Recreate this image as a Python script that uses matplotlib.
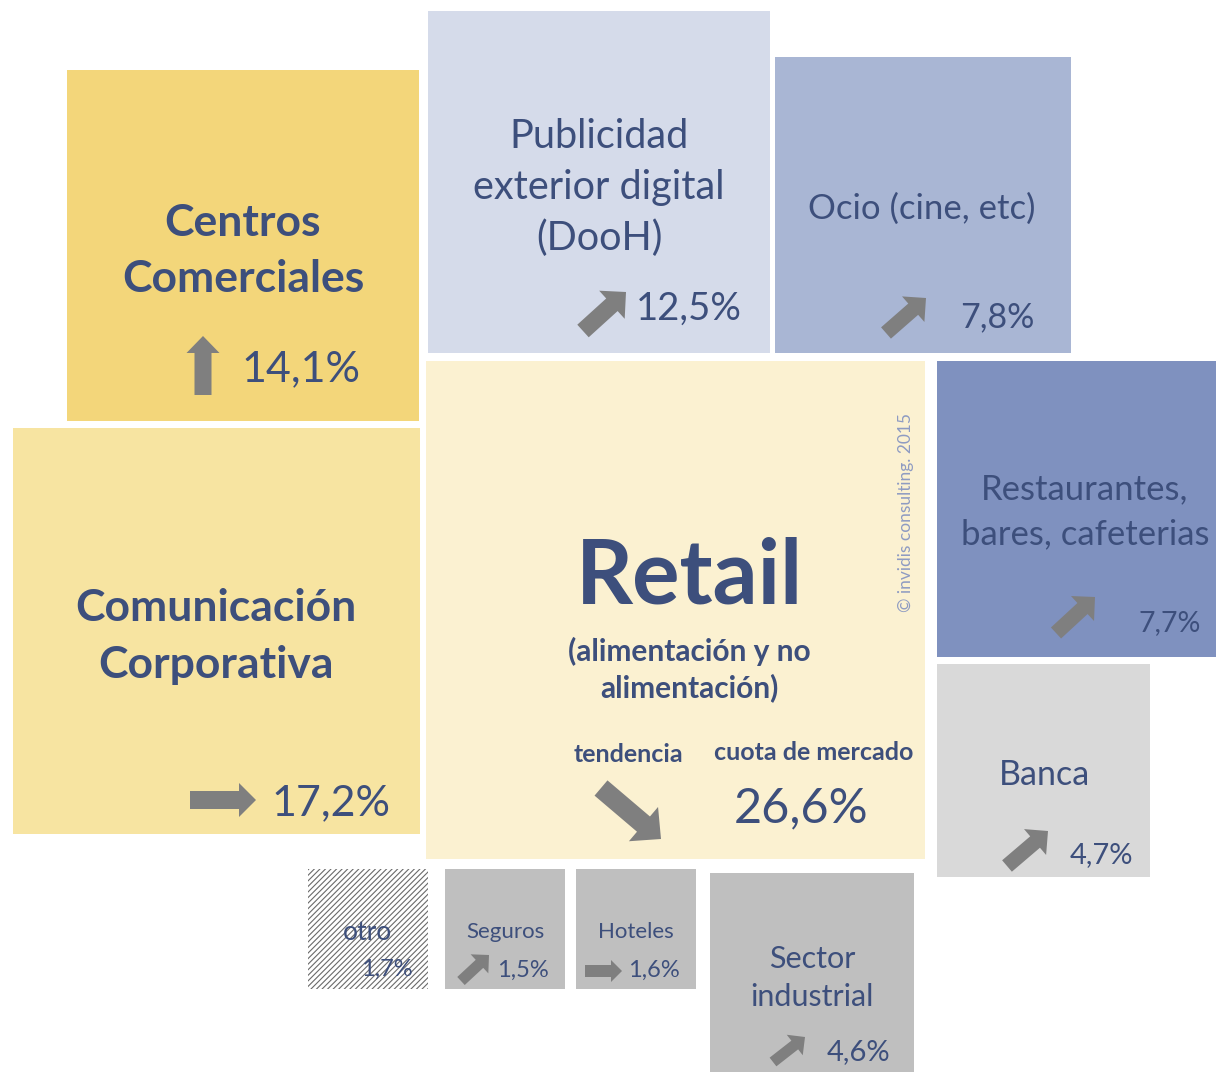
import numpy as np
import matplotlib
matplotlib.use("Agg")
import matplotlib.pyplot as plt
from matplotlib.patches import Rectangle, Polygon

# ---------------- data ----------------
categories = ["Centros Comerciales", "Comunicación Corporativa", "Publicidad exterior digital (DooH)",
              "Ocio (cine, etc)", "Retail", "Restaurantes, bares, cafeterias", "Banca",
              "otro", "Seguros", "Hoteles", "Sector industrial"]
shares = [14.1, 17.2, 12.5, 7.8, 26.6, 7.7, 4.7, 1.7, 1.5, 1.6, 4.6]
trends = ["up", "flat", "rising", "rising", "falling", "rising", "rising", None, "rising", "flat", "rising"]
label_lines = [["Centros", "Comerciales"], ["Comunicación", "Corporativa"],
               ["Publicidad", "exterior digital", "(DooH)"], ["Ocio (cine, etc)"], ["Retail"],
               ["Restaurantes,", "bares, cafeterias"], ["Banca"], ["otro"], ["Seguros"], ["Hoteles"],
               ["Sector", "industrial"]]
retail_sub = ["(alimentación y no", "alimentación)"]
copyright_txt = "© invidis consulting. 2015"

# ---------------- layout / style (pixel space) ----------------
# rect: x0, y0, x1, y1
rects = [(67, 70, 419, 421), (13, 428, 420, 834), (428, 11, 770, 353), (775, 57, 1071, 353),
         (426, 361, 925, 859), (937, 361, 1216, 657), (937, 664, 1150, 877),
         (308, 869, 428, 989), (445, 869, 565, 989), (576, 869, 696, 989), (710, 873, 914, 1072)]
colors = ["#F3D67A", "#F7E4A1", "#D5DBEA", "#A9B6D4", "#FBF1D1", "#7F91BF", "#D9D9D9",
          "#FFFFFF", "#BFBFBF", "#BFBFBF", "#BFBFBF"]
# label: center x, first baseline, line step, size, bold
label_pos = [(243, 236, 56, 32, True), (216, 621, 57, 32, True), (599, 148, 51, 28.5, False),
             (922, 219, 0, 25, False), (689, 604, 0, 64, True), (1085, 499, 45, 25, False),
             (1044, 785, 0, 24.5, False), (368, 940, 0, 19, False), (505, 938, 0, 16, False),
             (636, 938, 0, 16, False), (812, 968, 38, 22, False)]
# value: x, baseline, size, ha
value_pos = [(241, 381, 31, "left"), (271, 815, 31, "left"), (636, 320, 27.5, "left"),
             (960, 327, 24.5, "left"), (801, 822, 35, "center"), (1139, 631, 20.6, "left"),
             (1070, 863, 21, "left"), (413, 976, 17, "right"), (497, 977, 17, "left"),
             (628, 977, 17, "left"), (827, 1060, 21, "left")]
# arrow: tail x, tail y, tip x, tip y, shaft w, head w, head len
arrow_geom = [(203, 395, 203, 336, 17, 33, 17), (190, 800, 256, 800, 18, 34, 17),
              (583, 331, 626, 292, 17, 38, 19), (886, 333, 926, 298, 15, 34, 17),
              (601, 788, 661, 839, 20, 45, 23), (1056, 633, 1095, 597, 15, 34, 17),
              (1007, 866, 1048, 831, 15, 34, 17), None, (461, 981, 489, 955, 11, 26, 13),
              (585, 971, 622, 971, 12, 22, 11), (773, 1062, 805, 1037, 11, 26, 13)]

TEXT = "#3D4F7C"
ARROW = "#7F7F7F"
W, H = 1216, 1072

plt.rcParams['font.family'] = ['Lato', 'DejaVu Sans']
plt.rcParams['hatch.linewidth'] = 0.8
fig = plt.figure(figsize=(W / 100, H / 100), dpi=100)
ax = fig.add_axes([0, 0, 1, 1])
ax.set_xlim(0, W)
ax.set_ylim(H, 0)
ax.axis("off")


def block_arrow(g):
    tx, ty, hx, hy, sw, hw, hl = g
    t = np.array([tx, ty], float)
    h = np.array([hx, hy], float)
    d = (h - t) / np.linalg.norm(h - t)
    n = np.array([-d[1], d[0]])
    b = h - d * hl
    pts = [t + n * sw / 2, b + n * sw / 2, b + n * hw / 2, h,
           b - n * hw / 2, b - n * sw / 2, t - n * sw / 2]
    return Polygon(pts, closed=True, facecolor=ARROW, edgecolor="none", zorder=3)


for i, cat in enumerate(categories):
    x0, y0, x1, y1 = rects[i]
    if cat == "otro":
        ax.add_patch(Rectangle((x0, y0), x1 - x0, y1 - y0, facecolor="white",
                               edgecolor="#6a6a6a", hatch="//////", linewidth=0, zorder=1))
    else:
        ax.add_patch(Rectangle((x0, y0), x1 - x0, y1 - y0, facecolor=colors[i],
                               edgecolor="none", zorder=1))
    cx, by, step, size, bold = label_pos[i]
    for k, line in enumerate(label_lines[i]):
        ax.text(cx, by + k * step, line, ha="center", va="baseline", fontsize=size,
                fontweight="bold" if bold else "normal", color=TEXT, zorder=4)
    vx, vy, vs, vha = value_pos[i]
    ax.text(vx, vy, f"{shares[i]:.1f}%".replace(".", ","), ha=vha, va="baseline",
            fontsize=vs, color=TEXT, zorder=4)
    if arrow_geom[i] is not None:
        ax.add_patch(block_arrow(arrow_geom[i]))

# Retail extras
for k, line in enumerate(retail_sub):
    ax.text(689, 661 + k * 36, line, ha="center", va="baseline", fontsize=21.5,
            fontweight="bold", color=TEXT, zorder=4)
ax.text(628, 762, "tendencia", ha="center", va="baseline", fontsize=18,
        fontweight="bold", color=TEXT, zorder=4)
ax.text(814, 760, "cuota de mercado", ha="center", va="baseline", fontsize=18,
        fontweight="bold", color=TEXT, zorder=4)
ax.text(906, 512, copyright_txt, ha="center", va="center", rotation=90, fontsize=12.5,
        color="#8E9BC2", zorder=4)

fig.savefig("out.png", dpi=100)
